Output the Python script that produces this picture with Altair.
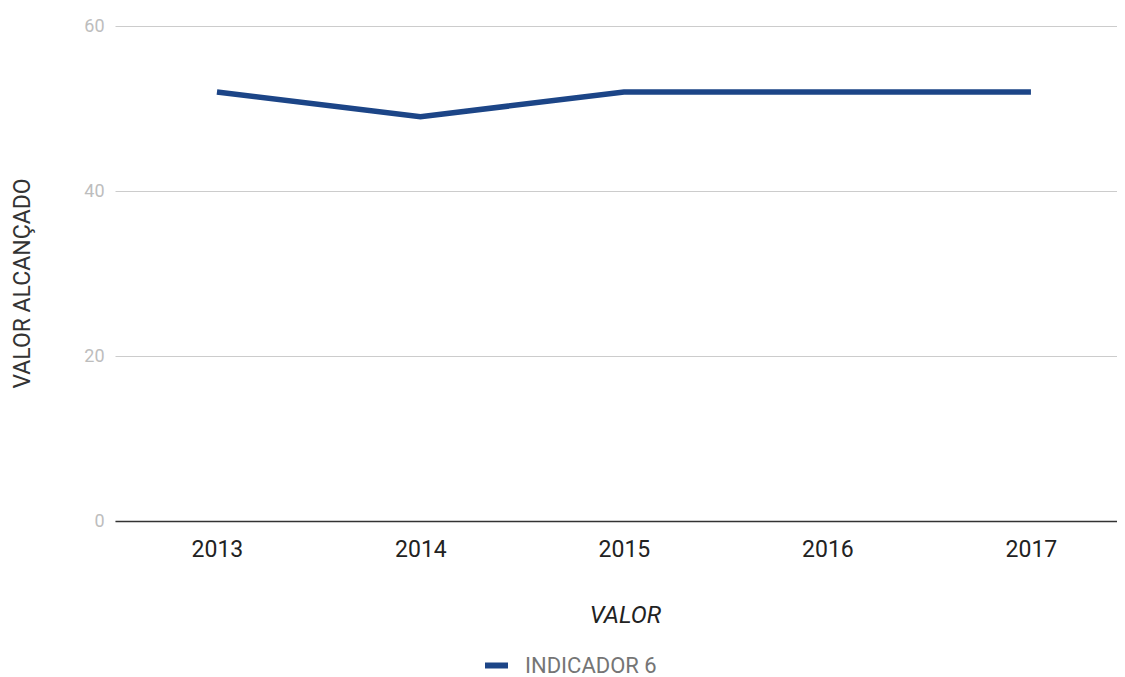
import altair as alt
import pandas as pd

years = [2013, 2014, 2015, 2016, 2017]
values = [52, 49, 52, 52, 52]
series = ["INDICADOR 6"] * 5
y_ticks = [0, 20, 40, 60]

df = pd.DataFrame({"ano": years, "valor": values, "serie": series})

chart = (
    alt.Chart(df)
    .mark_line(strokeWidth=5.5)
    .encode(
        x=alt.X(
            "ano:Q",
            title="VALOR",
            scale=alt.Scale(domain=[2012.499, 2017.423], nice=False, zero=False),
            axis=alt.Axis(
                values=years,
                format="d",
                grid=False,
                ticks=False,
                domainColor="#333333",
                domainWidth=1.5,
                labelFont="Roboto",
                labelFontSize=23,
                labelColor="#222222",
                labelPadding=17,
                titleFont="Roboto",
                titleFontSize=24,
                titleFontStyle="italic",
                titleFontWeight="normal",
                titleColor="#222222",
                titleX=510,
                titleY=94,
                titleBaseline="middle",
            ),
        ),
        y=alt.Y(
            "valor:Q",
            title="VALOR ALCANÇADO",
            scale=alt.Scale(domain=[0, 60], nice=False),
            axis=alt.Axis(
                values=y_ticks,
                domain=False,
                ticks=False,
                gridColor="#cccccc",
                gridWidth=1,
                labelFont="Roboto",
                labelFontSize=18,
                labelColor="#bdbdbd",
                labelPadding=11,
                titleFont="Roboto",
                titleFontSize=23,
                titleFontWeight="normal",
                titleColor="#333333",
                titleX=-93,
                titleY=257,
                titleAngle=270,
                titleAlign="center",
                titleBaseline="middle",
            ),
        ),
        color=alt.Color(
            "serie:N",
            scale=alt.Scale(range=["#1c4587"]),
            legend=alt.Legend(
                title=None,
                orient="none",
                legendX=367,
                legendY=625,
                padding=0,
                symbolType="stroke",
                symbolSize=529,
                symbolStrokeWidth=6,
                labelFont="Roboto",
                labelFontSize=22,
                labelColor="#757575",
                labelOffset=14,
            ),
        ),
    )
    .properties(
        width=1002,
        height=495,
        autosize=alt.AutoSizeParams(type="none"),
        padding={"left": 107, "top": 18, "right": 0, "bottom": 166},
    )
    .configure_view(stroke=None)
)

chart.save("out.html", embed_options={"renderer": "svg", "actions": False})
